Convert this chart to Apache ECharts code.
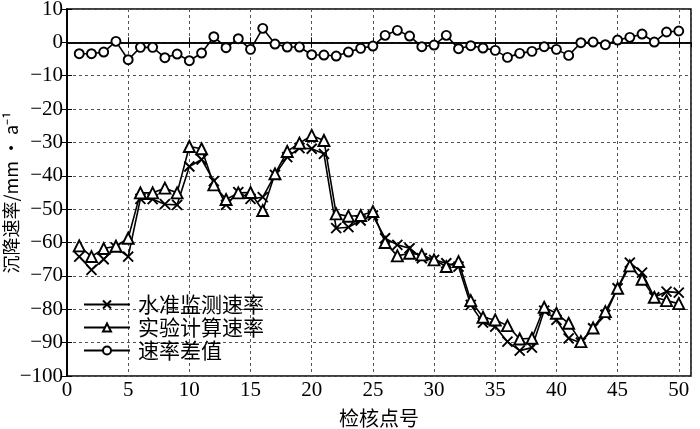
<!DOCTYPE html>
<html>
<head>
<meta charset="utf-8">
<script src="https://cdn.jsdelivr.net/npm/echarts@6/dist/echarts.min.js"></script>
<style>
html, body { margin: 0; padding: 0; background: #fff; }
#chart { width: 700px; height: 429px; }
</style>
</head>
<body>
<div id="chart"></div>
<script>
// 检核点号
const pointNo = [1, 2, 3, 4, 5, 6, 7, 8, 9, 10, 11, 12, 13, 14, 15, 16, 17, 18, 19, 20,
    21, 22, 23, 24, 25, 26, 27, 28, 29, 30, 31, 32, 33, 34, 35, 36, 37, 38, 39, 40,
    41, 42, 43, 44, 45, 46, 47, 48, 49, 50];
// 水准监测速率
const levelRate = [-64.2, -68.2, -65, -61.5, -64.2, -46.9, -47, -48.5, -48.7, -37.2,
    -35.1, -41.6, -48.7, -44.9, -46.9, -46.4, -39.7, -34.4, -31.7, -31.9,
    -33.4, -55.7, -55.4, -53.4, -51.9, -58.7, -60.7, -61.7, -64.7, -65.2,
    -66.2, -67.2, -78.7, -84, -85.2, -89.7, -92.4, -91.5, -80.4, -83.2,
    -88.7, -90, -85.7, -81.7, -73.7, -66, -69, -76.4, -74.7, -75];
// 实验计算速率
const calcRate = [-61, -64.2, -61.8, -61.1, -58.7, -45.1, -45.1, -43.7, -45.1, -31.2,
    -31.9, -42.7, -47.1, -45.1, -45, -50.4, -39.4, -32.7, -30.2, -27.9,
    -29.4, -51.4, -52.1, -51.9, -50.7, -60, -64, -63.2, -63.7, -65.2,
    -67.2, -65.7, -77.4, -82.4, -83.2, -84.9, -88.9, -88.7, -79.4, -81.2,
    -84.2, -89.7, -85.6, -80.7, -73.7, -67, -71, -76.4, -77.4, -78.3];
// 速率差值
const rateDiff = [-3.4, -3.4, -2.9, 0.3, -5.2, -1.5, -1.5, -4.6, -3.5, -5.5,
    -3.2, 1.7, -1.6, 1.1, -2.1, 4.2, -0.5, -1.4, -1.4, -3.7,
    -3.8, -4.1, -2.9, -1.8, -1.1, 2.1, 3.6, 1.9, -1.3, -0.8,
    2.1, -1.9, -1.0, -1.7, -2.4, -4.5, -3.3, -2.7, -1.3, -2.1,
    -3.9, -0.1, 0.1, -0.7, 0.7, 1.5, 2.5, 0.1, 3.1, 3.4];

const seriesNames = ['水准监测速率', '实验计算速率', '速率差值'];

function pairs(vals) {
    return pointNo.map(function (x, i) { return [x, vals[i]]; });
}

const serif = '"Liberation Serif", "DejaVu Serif", serif';
const cjk = '"Noto Sans CJK SC", sans-serif';
const gridLine = { show: true, lineStyle: { color: '#555', type: [3, 3], width: 1 } };

let myChart = echarts.init(document.getElementById('chart'));

function lineSeries(name, vals, symbol, size) {
    return {
        name: name,
        type: 'line',
        data: pairs(vals),
        symbol: symbol,
        symbolSize: size,
        showSymbol: true,
        animation: false,
        lineStyle: { color: '#000', width: 1.6 },
        itemStyle: {
            color: symbol.indexOf('path') === 0 ? 'none' : '#fff',
            borderColor: '#000',
            borderWidth: 1.9
        }
    };
}

const option = {
    backgroundColor: '#fff',
    grid: {
        left: 67, right: 9, top: 9, bottom: 53,
        outerBoundsMode: 'none',
        containLabel: false,
        show: true, borderColor: '#000', borderWidth: 1.5, backgroundColor: 'transparent'
    },
    legend: {
        orient: 'vertical',
        left: 78,
        top: 289,
        itemGap: 2,
        itemWidth: 46,
        itemHeight: 10,
        data: seriesNames,
        textStyle: { fontFamily: cjk, fontSize: 21, color: '#000', padding: [0, 0, 0, 3] }
    },
    xAxis: [{
        type: 'value',
        min: 0, max: 51, interval: 5,
        name: '检核点号',
        nameLocation: 'middle',
        nameGap: 32,
        nameMoveOverlap: false,
        nameTextStyle: { fontFamily: cjk, fontSize: 20, color: '#000' },
        axisLine: { show: true, lineStyle: { color: '#000', width: 1.5 } },
        axisTick: { show: true, inside: true, length: 5, lineStyle: { color: '#000' } },
        axisLabel: { showMaxLabel: false, fontFamily: serif, fontSize: 21, color: '#000', margin: 4 },
        splitLine: gridLine
    }, {
        type: 'value', position: 'top',
        min: 0, max: 51, interval: 5,
        axisLine: { show: true, lineStyle: { color: '#000', width: 1.5 } },
        axisTick: { show: true, inside: true, length: 5, lineStyle: { color: '#000' } },
        axisLabel: { show: false },
        splitLine: { show: false }
    }],
    yAxis: [{
        type: 'value',
        min: -100, max: 10, interval: 10,
        name: '沉降速率/mm · a⁻¹',
        nameLocation: 'middle',
        nameGap: 47,
        nameMoveOverlap: false,
        nameTextStyle: { fontFamily: cjk, fontSize: 18, color: '#000' },
        axisLine: { show: true, lineStyle: { color: '#000', width: 1.5 } },
        axisTick: { show: true, inside: true, length: 5, lineStyle: { color: '#000' } },
        axisLabel: {
            fontFamily: serif, fontSize: 21, color: '#000', margin: 4,
            formatter: function (v) { return String(v).replace('-', '\u2212'); }
        },
        splitLine: gridLine
    }, {
        type: 'value', position: 'right',
        min: -100, max: 10, interval: 10,
        axisLine: { show: true, lineStyle: { color: '#000', width: 1.5 } },
        axisTick: { show: true, inside: true, length: 5, lineStyle: { color: '#000' } },
        axisLabel: { show: false },
        splitLine: { show: false }
    }],
    series: [
        lineSeries(seriesNames[0], levelRate, 'path://M0,0L10,10M10,0L0,10', 10),
        lineSeries(seriesNames[1], calcRate, 'triangle', 11),
        lineSeries(seriesNames[2], rateDiff, 'circle', 9)
    ]
};
myChart.setOption(option);
window.addEventListener('resize', () => {
    myChart.resize();
});
</script>
</body>
</html>
